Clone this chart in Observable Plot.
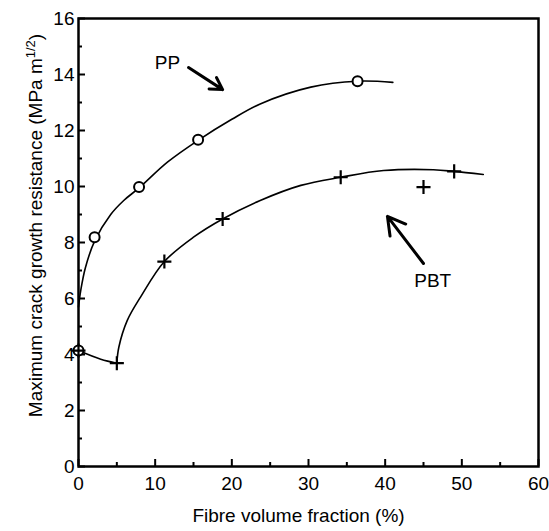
<!DOCTYPE html>
<html><head><meta charset="utf-8">
<script src="https://cdn.jsdelivr.net/npm/d3@7"></script>
<script src="https://cdn.jsdelivr.net/npm/@observablehq/plot@0.6"></script>
<style>
body{margin:0;background:#fff}
svg{font-family:"Liberation Sans",Arial,Helvetica,sans-serif}
</style>
</head><body><div id="chart"></div>
<script>
// Measured points
const ppX = [0, 2.1, 7.9, 15.6, 36.4];
const ppY = [4.14, 8.19, 9.98, 11.67, 13.76];
const pbtX = [0, 5.0, 11.2, 18.8, 34.2, 45.0, 49.0];
const pbtY = [4.14, 3.69, 7.32, 8.84, 10.33, 9.98, 10.54];
// Hand-drawn fitted curves
const ppCurveX = [0, 0.3, 0.9, 2.1, 4.2, 5.9, 7.9, 11.6, 15.6, 20, 23.7, 30.3, 36.4, 41.0];
const ppCurveY = [5.7, 6.3, 7.1, 8.05, 9.0, 9.5, 9.95, 10.87, 11.65, 12.4, 12.95, 13.55, 13.76, 13.72];
const pbtLowX = [0, 2.9, 5.0];
const pbtLowY = [4.14, 3.83, 3.69];
const pbtCurveX = [5.0, 5.26, 6.35, 8.09, 11.2, 15.0, 18.8, 23.7, 29, 34.2, 39.8, 46.3, 49, 52.8];
const pbtCurveY = [3.69, 4.26, 5.21, 6.05, 7.32, 8.19, 8.84, 9.5, 10.04, 10.33, 10.57, 10.6, 10.54, 10.43];
// Annotations
const labelText = ["PP", "PBT"];
const labelX = [11.6, 46.2];
const labelY = [14.4, 6.64];
const arrowX1 = [14.35, 45.0];
const arrowY1 = [14.25, 7.25];
const arrowX2 = [18.8, 40.3];
const arrowY2 = [13.46, 8.93];
// Axes
const xMajor = [0, 10, 20, 30, 40, 50, 60];
const xMinor = [5, 15, 25, 35, 45, 55];
const yMajor = [0, 2, 4, 6, 8, 10, 12, 14, 16];
const yMinor = [1, 3, 5, 7, 9, 11, 13, 15];
const xTitle = "Fibre volume fraction (%)";
const yTitle = "Maximum crack growth resistance (MPa m1/2)";

const zip = (xs, ys) => xs.map((x, i) => ({x, y: ys[i]}));
const pp = zip(ppX, ppY), pbt = zip(pbtX, pbtY);
const curves = [
  ...zip(ppCurveX, ppCurveY).map(d => ({...d, s: "pp"})),
  ...zip(pbtLowX, pbtLowY).map(d => ({...d, s: "low"})),
  ...zip(pbtCurveX, pbtCurveY).map(d => ({...d, s: "pbt"}))
];
const labels = labelText.map((t, i) => ({t, x: labelX[i], y: labelY[i]}));
const arrows = arrowX1.map((x1, i) => ({x1, y1: arrowY1[i], x2: arrowX2[i], y2: arrowY2[i]}));

const W = 549, H = 531, mL = 78, mR = 11, mT = 18, mB = 65;
const pw = W - mL - mR, ph = H - mT - mB;
const fs = 19;
const chart = Plot.plot({
  width: W, height: H,
  marginLeft: mL, marginRight: mR, marginTop: mT, marginBottom: mB,
  style: {fontSize: fs + "px", fontFamily: '"Liberation Sans", Arial, sans-serif', color: "#000", background: "#fff"},
  x: {domain: [0, 60], axis: null},
  y: {domain: [0, 16], axis: null},
  marks: [
    Plot.tickX(xMajor, {x: d => d, insetTop: ph - 7, stroke: "#000", strokeWidth: 2}),
    Plot.tickX(xMinor, {x: d => d, insetTop: ph - 4, stroke: "#000", strokeWidth: 2}),
    Plot.tickY(yMajor, {y: d => d, insetRight: pw - 7, stroke: "#000", strokeWidth: 2}),
    Plot.tickY(yMinor, {y: d => d, insetRight: pw - 4, stroke: "#000", strokeWidth: 2}),
    Plot.axisX({ticks: xMajor, tickSize: 0, tickPadding: 10, fontSize: fs, label: null, tickFormat: d => String(d)}),
    Plot.axisY({ticks: yMajor, tickSize: 0, tickPadding: 4, fontSize: fs, label: null, tickFormat: d => String(d)}),
    Plot.frame({strokeWidth: 2.5}),
    Plot.line(curves, {x: "x", y: "y", z: "s", curve: "catmull-rom", stroke: "#000", strokeWidth: 1.6}),
    Plot.dot(pp, {x: "x", y: "y", r: 5, symbol: "circle", stroke: "#000", fill: "#fff", strokeWidth: 2}),
    Plot.dot(pbt, {x: "x", y: "y", r: 4.6, symbol: "plus", stroke: "#000", strokeWidth: 2.2}),
    Plot.arrow(arrows, {x1: "x1", y1: "y1", x2: "x2", y2: "y2", strokeWidth: 3, headLength: 12, stroke: "#000"}),
    Plot.text(labels, {x: "x", y: "y", text: "t", fontSize: fs, fill: "#000"}),
    Plot.text([xTitle], {frameAnchor: "bottom", dy: 55, dx: -10, fontSize: fs, fill: "#000"}),
    Plot.text([yTitle], {frameAnchor: "left", dx: -43, dy: -17, rotate: -90, textAnchor: "middle", fontSize: fs, fill: "#000"})
  ]
});
document.getElementById("chart").appendChild(chart);
// Superscript for m^1/2
d3.select(chart).selectAll("text").each(function() {
  if (this.textContent === yTitle) {
    const t = d3.select(this);
    t.text(null);
    t.append("tspan").text("Maximum crack growth resistance (MPa m");
    t.append("tspan").attr("baseline-shift", "super").attr("font-size", "13px").text("1/2");
    t.append("tspan").text(")");
  }
});
</script>
</body></html>
